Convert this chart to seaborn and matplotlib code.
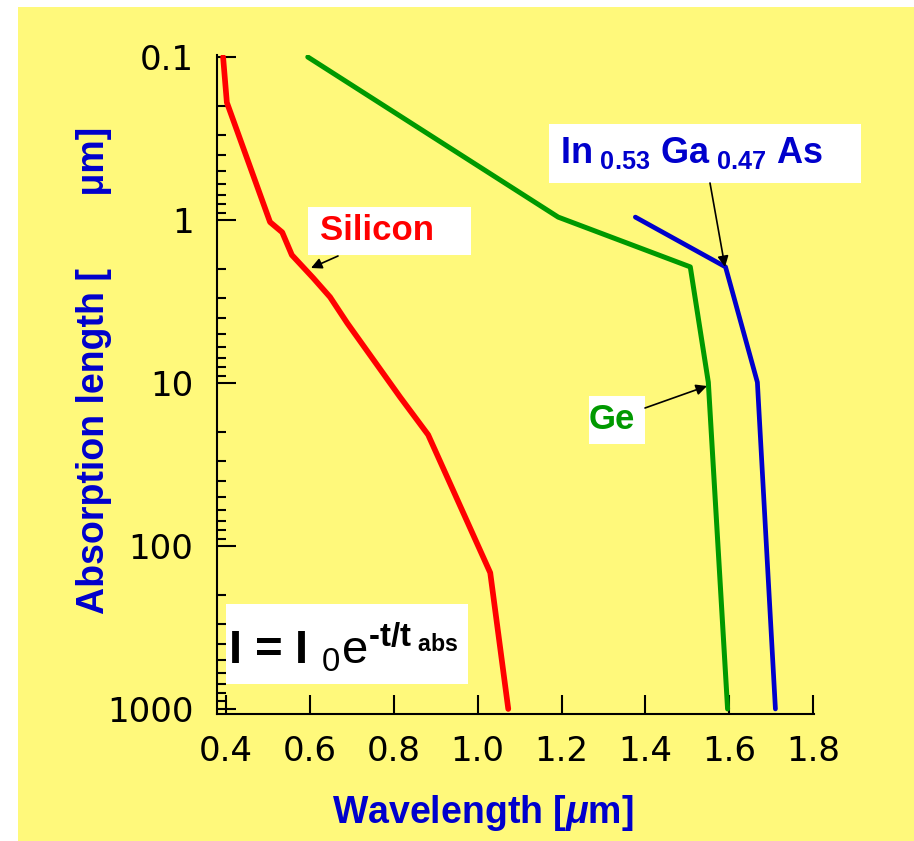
import matplotlib
matplotlib.use("Agg")
import matplotlib.pyplot as plt
import matplotlib.ticker as mticker
from matplotlib.patches import Rectangle
import pandas as pd
import seaborn as sns

# absorption length vs wavelength
si_wl = [0.393, 0.402, 0.505, 0.534, 0.557, 0.608, 0.648, 0.689, 0.815, 0.882, 1.030, 1.073]
si_abs = [0.1, 0.19, 1.03, 1.19, 1.64, 2.27, 2.97, 4.29, 12.2, 20.8, 146, 1000]

ge_wl = [0.595, 1.192, 1.507, 1.550, 1.596]
ge_abs = [0.1, 0.96, 1.94, 9.9, 1000]

ingaas_wl = [1.376, 1.591, 1.667, 1.710]
ingaas_abs = [0.96, 1.94, 9.9, 1000]

x_ticks = [0.4, 0.6, 0.8, 1.0, 1.2, 1.4, 1.6, 1.8]
y_ticks = [0.1, 1, 10, 100, 1000]
y_ticklabels = ["0.1", "1", "10", "100", "1000"]

YELLOW = "#FFF97B"
RED = "#FF0000"
GREEN = "#009900"
BLUE = "#0000CC"

sns.set_theme(style="ticks")
plt.rcParams["font.family"] = ["DejaVu Sans"]
plt.rcParams["mathtext.fontset"] = "custom"
plt.rcParams["mathtext.rm"] = "Liberation Sans:bold"
plt.rcParams["mathtext.it"] = "Liberation Sans:italic:bold"
plt.rcParams["mathtext.bf"] = "Liberation Sans:bold"
plt.rcParams["mathtext.sf"] = "Liberation Sans"
LAB = dict(family="Liberation Sans", fontweight="bold")

W, H = 914, 841
fig = plt.figure(figsize=(W / 100, H / 100), dpi=100)
fig.patch.set_facecolor("white")
fig.patches.append(Rectangle((18 / W, 0), 1, 1 - 7 / H, transform=fig.transFigure,
                             facecolor=YELLOW, edgecolor="none", zorder=-10))

L, R, T, B = 217, 814, 55, 714
ax = fig.add_axes([L / W, 1 - B / H, (R - L) / W, (B - T) / H])
ax.set_facecolor("none")


def px(x, y):
    # pixel position in the picture -> axes fraction
    return ((x - L) / (R - L), (B - y) / (B - T))


si = pd.DataFrame({"wl": si_wl, "abs": si_abs})
ge = pd.DataFrame({"wl": ge_wl, "abs": ge_abs})
ingaas = pd.DataFrame({"wl": ingaas_wl, "abs": ingaas_abs})

sns.lineplot(data=si, x="wl", y="abs", sort=False, estimator=None, color=RED, lw=4.1, ax=ax)
sns.lineplot(data=ge, x="wl", y="abs", sort=False, estimator=None, color=GREEN, lw=3.6, ax=ax)
sns.lineplot(data=ingaas, x="wl", y="abs", sort=False, estimator=None, color=BLUE, lw=3.4, ax=ax)

ax.set_yscale("log")
ax.set_xlim(0.3785, 1.802)
ax.set_ylim(1074, 0.0972)

ax.set_xticks(x_ticks)
ax.set_xticklabels([f"{v:.1f}" for v in x_ticks])
ax.yaxis.set_major_locator(mticker.FixedLocator(y_ticks))
ax.yaxis.set_major_formatter(mticker.FixedFormatter(y_ticklabels))
ax.yaxis.set_minor_locator(mticker.LogLocator(base=10, subs=range(2, 10)))
ax.yaxis.set_minor_formatter(mticker.NullFormatter())

ax.tick_params(axis="both", which="major", direction="in", length=14, width=1.5,
               colors="black", labelsize=24.5)
ax.tick_params(axis="y", which="major", pad=17)
ax.tick_params(axis="x", which="major", pad=15)
ax.tick_params(axis="y", which="minor", direction="in", length=6.5, width=1.5, colors="black")

sns.despine(ax=ax)
for s in ["left", "bottom"]:
    ax.spines[s].set_linewidth(1.5)
    ax.spines[s].set_color("black")

ax.set_xlabel("Wavelength [$\\mu$m]", color=BLUE, fontsize=27, **LAB)
ax.xaxis.set_label_coords(0.446, -0.12)
ax.set_ylabel("Absorption length [       μm]", color=BLUE, fontsize=27, **LAB)
ax.yaxis.set_label_coords(-0.176, 0.522)

# white label boxes
for x0, y0, x1, y1 in [(308, 207, 471, 255), (549, 124, 861, 183),
                       (589, 396, 645, 444), (226, 604, 468, 684)]:
    ax.add_patch(Rectangle(px(x0, y1), (x1 - x0) / (R - L), (y1 - y0) / (B - T),
                           transform=ax.transAxes, facecolor="white", edgecolor="none",
                           clip_on=False, zorder=4))

ax.text(*px(377, 231), "Silicon", transform=ax.transAxes, color=RED, fontsize=25,
        ha="center", va="center", zorder=5, **LAB)
ax.text(*px(612, 419), "Ge", transform=ax.transAxes, color=GREEN, fontsize=25,
        ha="center", va="center", zorder=5, **LAB)
ax.text(*px(560, 163), "In$_{\\ 0.53}$ Ga$_{\\ 0.47}$ As", transform=ax.transAxes,
        color=BLUE, fontsize=26, ha="left", va="baseline", zorder=5, **LAB)
ax.text(*px(228, 664),
        "I = I $_{\\mathsf{0}}\\mathsf{e}^{\\mathrm{\u2010t/t}_{\\mathrm{\\ abs}}}$",
        transform=ax.transAxes, color="black", fontsize=34, ha="left", va="baseline",
        zorder=5, **LAB)

arrow = dict(arrowstyle="-|>", color="black", lw=1.2, mutation_scale=16, shrinkA=0, shrinkB=0)
for (x0, y0), (x1, y1) in [((338, 256), (311, 268)), ((710, 183), (725, 267)),
                           ((645, 408), (707, 386))]:
    ax.annotate("", xy=px(x1, y1), xytext=px(x0, y0), xycoords="axes fraction",
                textcoords="axes fraction", arrowprops=arrow, zorder=6)

plt.savefig("out.png", dpi=100)
